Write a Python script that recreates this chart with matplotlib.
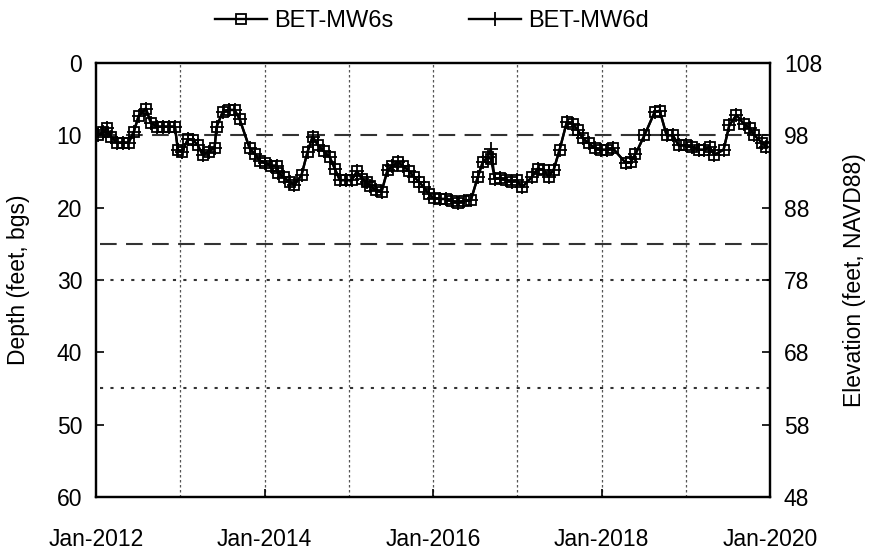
import matplotlib
matplotlib.use("Agg")
import matplotlib.pyplot as plt
import pandas as pd

plt.rcParams['font.family'] = ['Liberation Sans', 'DejaVu Sans']

# ---- data ----
dates_s = ["2012-01-09", "2012-02-01", "2012-02-17", "2012-03-05", "2012-04-01", "2012-04-26",
           "2012-05-22", "2012-06-13", "2012-07-04", "2012-08-04", "2012-08-26", "2012-09-21",
           "2012-10-17", "2012-11-12", "2012-12-08", "2012-12-21", "2013-01-08", "2013-02-03",
           "2013-02-25", "2013-03-16", "2013-04-07", "2013-05-03", "2013-05-29", "2013-06-07",
           "2013-07-03", "2013-07-29", "2013-08-24", "2013-09-15", "2013-10-28", "2013-11-20",
           "2013-12-11", "2014-01-02", "2014-01-28", "2014-02-23", "2014-03-02", "2014-03-24",
           "2014-04-19", "2014-05-10", "2014-06-10", "2014-07-06", "2014-07-28", "2014-08-19",
           "2014-09-14", "2014-10-10", "2014-11-01", "2014-11-23", "2014-12-19", "2015-01-14",
           "2015-02-05", "2015-02-27", "2015-03-19", "2015-04-05", "2015-04-27", "2015-05-23",
           "2015-06-18", "2015-07-09", "2015-08-01", "2015-08-23", "2015-09-18", "2015-10-09",
           "2015-11-01", "2015-11-22", "2015-12-14", "2016-01-05", "2016-02-01", "2016-02-26",
           "2016-03-22", "2016-04-17", "2016-05-13", "2016-06-13", "2016-07-13", "2016-08-04",
           "2016-08-26", "2016-09-08", "2016-09-25", "2016-10-17", "2016-11-12", "2016-12-08",
           "2016-12-30", "2017-01-21", "2017-03-04", "2017-03-30", "2017-04-25", "2017-05-16",
           "2017-06-07", "2017-07-03", "2017-08-03", "2017-08-29", "2017-09-20", "2017-10-11",
           "2017-11-07", "2017-12-03", "2017-12-29", "2018-01-24", "2018-02-19", "2018-04-15",
           "2018-05-07", "2018-05-28", "2018-07-06", "2018-08-19", "2018-09-10", "2018-10-10",
           "2018-11-06", "2018-12-01", "2019-01-01", "2019-01-27", "2019-02-27", "2019-03-23",
           "2019-04-14", "2019-05-05", "2019-06-14", "2019-07-09", "2019-08-09", "2019-09-09",
           "2019-10-05", "2019-10-26", "2019-11-26", "2019-12-17"]

depth_mw6s = [10.0, 9.6, 9.0, 10.2, 11.0, 11.0,
              11.0, 9.5, 7.3, 6.3, 8.3, 8.8,
              8.8, 8.8, 8.8, 12.0, 12.3, 10.5,
              10.7, 11.3, 12.7, 12.3, 11.7, 8.8,
              6.8, 6.5, 6.5, 7.8, 11.8, 12.6,
              13.5, 13.8, 14.2, 14.2, 15.2, 15.8,
              16.4, 16.9, 15.5, 12.3, 10.2, 11.3,
              12.2, 13.0, 14.6, 16.2, 16.2, 16.2,
              15.0, 16.0, 16.5, 17.0, 17.6, 17.8,
              14.8, 14.3, 13.7, 14.2, 14.9, 15.7,
              16.4, 17.2, 18.1, 18.7, 18.8, 18.8,
              19.1, 19.3, 19.1, 19.0, 15.8, 13.7,
              13.0, 13.3, 16.0, 15.9, 16.2, 16.4,
              16.2, 17.2, 15.8, 14.6, 14.8, 15.7,
              14.8, 12.0, 8.2, 8.4, 9.3, 10.4,
              11.1, 11.8, 12.0, 12.0, 11.8, 13.8,
              13.7, 12.6, 10.0, 6.8, 6.6, 10.0,
              10.0, 11.4, 11.4, 11.6, 12.0, 12.0,
              11.6, 12.7, 12.0, 8.6, 7.2, 8.4,
              9.0, 10.0, 11.0, 11.6]

depth_mw6d = [10.0, 9.6, 9.0, 10.2, 11.0, 11.0,
              11.0, 9.5, 7.3, 6.3, 8.3, 8.8,
              8.8, 8.8, 8.8, 12.0, 12.3, 10.5,
              10.7, 11.3, 12.7, 12.3, 11.7, 8.8,
              6.8, 6.5, 6.5, 7.8, 11.8, 12.6,
              13.5, 13.8, 14.2, 14.2, 15.2, 15.8,
              16.4, 16.9, 15.5, 12.3, 10.2, 11.3,
              12.2, 13.0, 14.6, 16.2, 16.2, 16.2,
              15.0, 16.0, 16.5, 17.0, 17.6, 17.8,
              14.8, 14.3, 13.7, 14.2, 14.9, 15.7,
              16.4, 17.2, 18.1, 18.7, 18.8, 18.8,
              19.1, 19.3, 19.1, 19.0, 15.8, 13.7,
              13.0, 11.9, 16.0, 15.9, 16.2, 16.4,
              16.2, 17.2, 15.8, 14.6, 14.8, 15.7,
              14.8, 12.0, 8.2, 8.4, 9.3, 10.4,
              11.1, 11.8, 12.0, 12.0, 11.8, 13.8,
              13.7, 12.6, 10.0, 6.8, 6.6, 10.0,
              10.0, 11.4, 11.4, 11.6, 12.0, 12.0,
              11.6, 12.7, 12.0, 8.6, 7.2, 8.4,
              9.0, 10.0, 11.0, 11.6]

ref_dashed = [10, 25]     # depth, ft bgs
ref_dotted = [30, 45]

xtick_labels = ["Jan-2012", "Jan-2014", "Jan-2016", "Jan-2018", "Jan-2020"]
depth_ticks = [0, 10, 20, 30, 40, 50, 60]
elev_ticks = [48, 58, 68, 78, 88, 98, 108]

FS = 16.5

# ---- plot ----
fig = plt.figure(figsize=(8.69, 5.52), dpi=100)
ax = fig.add_axes([0.1105, 0.0996, 0.7755, 0.7864])

ts = pd.to_datetime(dates_s)
ax.plot(ts, depth_mw6d, color='black', lw=1.7, marker='+', ms=10, mew=1.3,
        label='BET-MW6d', zorder=3)
ax.plot(ts, depth_mw6s, color='black', lw=1.7, marker='s', ms=7.5, mfc='none',
        mec='black', mew=1.3, label='BET-MW6s', zorder=4)

x0 = pd.Timestamp("2012-01-01")
x1 = pd.Timestamp("2020-01-01")
xs = pd.Timestamp("2012-01-20")
for d in ref_dashed:
    ax.plot([xs, x1], [d, d], color='#333333', lw=1.5, ls=(0, (8, 4.5)), zorder=2)
for d in ref_dotted:
    ax.plot([xs, x1], [d, d], color='#333333', lw=1.5, ls=(0, (1.5, 3.5)), zorder=2)

ax.set_xlim(x0, x1)
ax.set_ylim(60, 0)
ax.set_yticks(depth_ticks)
major = [pd.Timestamp(f"{y}-01-01") for y in (2012, 2014, 2016, 2018, 2020)]
ax.set_xticks(major)
ax.set_xticklabels(xtick_labels)
for y in range(2013, 2020):
    ax.axvline(pd.Timestamp(f"{y}-01-01"), color='#555555', lw=0.9,
               ls=(0, (2, 2)), zorder=1)
ax.tick_params(axis='both', which='major', direction='in', length=6, width=1.2,
               labelsize=FS, pad=10)
ax.tick_params(axis='x', which='major', pad=22)
ax.set_ylabel("Depth (feet, bgs)", fontsize=FS, labelpad=19)
for s in ax.spines.values():
    s.set_linewidth(1.6)

ax2 = ax.twinx()
ax2.set_ylim(48, 108)
ax2.set_yticks(elev_ticks)
ax2.tick_params(axis='y', direction='in', length=6, width=1.2, labelsize=FS, pad=10)
ax2.set_ylabel("Elevation (feet, NAVD88)", fontsize=FS, labelpad=15)
for s in ax2.spines.values():
    s.set_linewidth(1.6)

h, l = ax.get_legend_handles_labels()
order = [1, 0]
fig.legend([h[i] for i in order], [l[i] for i in order], loc='upper center',
           bbox_to_anchor=(0.497, 1.02), ncol=2, frameon=False, fontsize=17,
           handlelength=2.2, columnspacing=3.2, handletextpad=0.3)

fig.savefig("out.png", dpi=100)
